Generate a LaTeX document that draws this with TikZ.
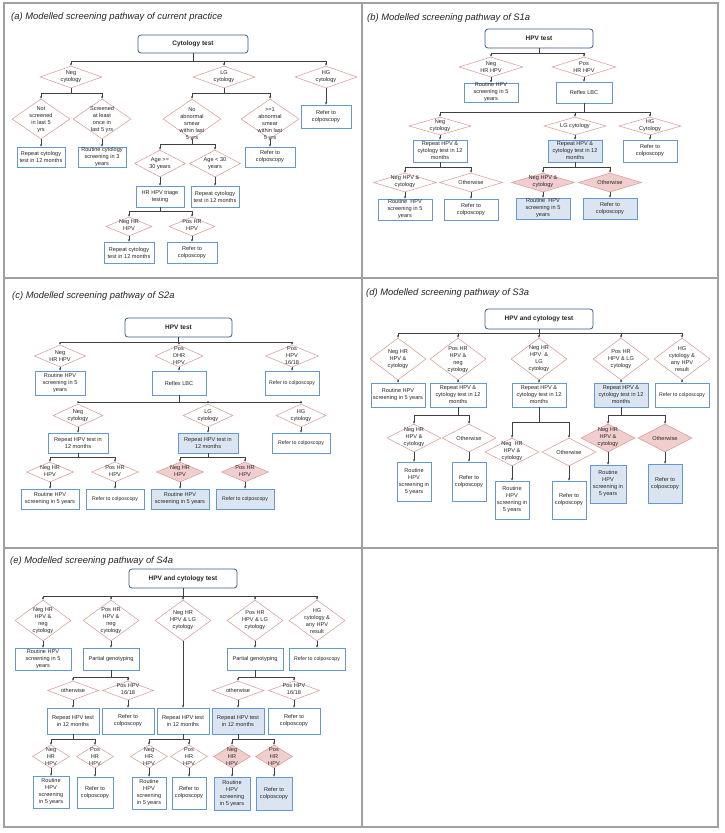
\documentclass[tikz,border=0pt]{standalone}
\usepackage{fontspec}
\setmainfont{Liberation Sans}
\usetikzlibrary{shapes.geometric,arrows.meta}
\definecolor{rootblue}{RGB}{56,93,138}
\definecolor{boxblue}{RGB}{100,152,206}
\definecolor{fillblue}{RGB}{219,229,241}
\definecolor{diapink}{RGB}{217,150,148}
\definecolor{diafill}{RGB}{240,206,205}
\definecolor{framec}{RGB}{160,160,160}
\definecolor{arrc}{RGB}{64,64,64}
\definecolor{txt}{RGB}{38,38,38}
\newcommand\smfont{\fontsize{5.6}{7}\selectfont}
\newcommand\tinyfont{\fontsize{5.2}{6.5}\selectfont}
\newcommand\rootfont{\fontsize{6.5}{8}\selectfont\bfseries}
\newcommand\ttlfont{\fontsize{9.4}{11}\selectfont\itshape}
\newcommand\bx[7][]{\node[boxs,#1,minimum width={(#5-#3)*1pt},minimum height={(#6-#4)*1pt}] (#2) at ({(#3+#5)/2},{(#4+#6)/2}) {#7};}
\newcommand\dm[8][]{\node[dshape,#1,minimum width=#5pt,minimum height=#6pt] (#2) at (#3,#4) {};\node[dtxt] (#2t) at (#3,#7) {#8};}
\newcommand\cn[3]{\draw[arr] (#1.south) -- ++(0,#2) -| (#3.north);}
\newcommand\sd[2]{\draw[arr] (#1.south) -- (#2.north);}
\tikzset{
 boxs/.style={draw=boxblue, line width=0.6pt, fill=white, inner sep=0pt, align=center, font=\smfont, text=txt},
 fb/.style={fill=fillblue},
 sf/.style={font=\tinyfont},
 dshape/.style={diamond, draw=diapink, line width=0.5pt, inner sep=0pt, fill=white},
 fd/.style={fill=diafill},
 dtxt/.style={inner sep=0pt, align=center, font=\smfont, text=txt},
 root/.style={draw=rootblue, line width=0.8pt, rounded corners=3pt, font=\rootfont},
 arr/.style={draw=arrc, line width=0.5pt, -{Stealth[length=2.6pt,width=2.2pt]}},
 ttl/.style={anchor=base west, inner sep=0pt, font=\ttlfont, text=txt},
 frame/.style={draw=framec, line width=1.3pt}
}
\begin{document}
\begin{tikzpicture}[x=1pt,y=-1pt]
\useasboundingbox (0,0) rectangle (724,833);
\fill[white] (0,0) rectangle (724,833);
\draw[frame] (4,3) rectangle (718,827);
\draw[frame] (362,3) -- (362,827);
\draw[frame] (4,278) -- (718,278);
\draw[frame] (4,548) -- (718,548);
% titles
\node[ttl] (ta) at (11,19) {(a) Modelled screening pathway of current practice};
\node[ttl] (tb) at (367,20) {(b) Modelled screening pathway of S1a};
\node[ttl] (tc) at (12,298) {(c) Modelled screening pathway of S2a};
\node[ttl] (td) at (366,295) {(d) Modelled screening pathway of S3a};
\node[ttl] (te) at (10,563) {(e) Modelled screening pathway of S4a};
% ---------------- (a)
\bx[root]{a0}{138}{35}{248}{53}{Cytology test}
\dm{a1}{71}{77}{62}{22}{77}{Neg\\cytology}
\dm{a2}{224}{77}{62}{22}{77}{LG\\cytology}
\dm{a3}{326}{77}{62}{22}{77}{HG\\cytology}
\cn{a0}{8}{a1} \cn{a0}{8}{a2} \cn{a0}{8}{a3}
\dm{a4}{41}{119}{58}{40}{120}{Not\\screened\\in last 5\\yrs}
\dm{a5}{102}{119}{58}{40}{120}{Screened\\at least\\once in\\last 5 yrs}
\cn{a1}{5}{a4} \cn{a1}{5}{a5}
\dm{a6}{192}{119}{58}{40}{124}{No\\abnormal\\smear\\within last\\5 yrs}
\dm{a7}{270}{119}{58}{40}{124}{>=1\\abnormal\\smear\\within last\\5 yrs}
\cn{a2}{5}{a6} \cn{a2}{5}{a7}
\bx{a13}{301}{105}{351}{128}{Refer to\\colposcopy}
\sd{a3}{a13}
\bx{a8}{17}{147}{65}{167}{Repeat cytology\\test in 12 months}
\bx{a9}{78}{147}{126}{167}{Routine cytology\\screening in 3\\years}
\sd{a4}{a8} \sd{a5}{a9}
\dm{a10}{160}{163.5}{51}{27}{163.5}{Age >=\\30 years}
\dm{a11}{215}{163.5}{51}{27}{163.5}{Age < 30\\years}
\cn{a6}{5}{a10} \cn{a6}{5}{a11}
\bx{a12}{245}{147}{295}{167}{Refer to\\colposcopy}
\sd{a7}{a12}
\bx{a14}{136}{186}{184}{207}{HR HPV triage\\testing}
\bx{a15}{191}{186}{239}{207}{Repeat cytology\\test in 12 months}
\sd{a10}{a14} \sd{a11}{a15}
\dm{a16}{129}{226.5}{46}{19}{225.5}{Neg HR\\HPV}
\dm{a17}{192}{226.5}{46}{19}{225.5}{Pos HR\\HPV}
\cn{a14}{4}{a16} \cn{a14}{4}{a17}
\bx{a18}{104}{242}{154}{263}{Repeat cytology\\test in 12 months}
\bx{a19}{167}{242}{217}{263}{Refer to\\colposcopy}
\sd{a16}{a18} \sd{a17}{a19}
% ---------------- (b)
\bx[root]{b0}{485}{29}{593}{48}{HPV test}
\dm{b1}{491}{67}{64}{20}{67}{Neg\\HR HPV}
\dm{b2}{584}{67}{64}{20}{67}{Pos\\HR HPV}
\cn{b0}{5}{b1} \cn{b0}{5}{b2}
\bx{b3}{464}{83}{518}{102}{Routine HPV\\screening in 5\\years}
\bx{b4}{556}{82}{612}{103}{Reflex LBC}
\sd{b1}{b3} \sd{b2}{b4}
\dm{b5}{440}{126}{62}{18}{126}{Neg\\cytology}
\dm{b6}{575}{126}{62}{18}{126}{LG cytology}
\dm{b7}{650}{126}{62}{18}{126}{HG\\Cytology}
\cn{b4}{9}{b5} \cn{b4}{9}{b6} \cn{b4}{9}{b7}
\bx{b8}{413}{140}{467}{162}{Repeat HPV \&\\cytology test in 12\\months}
\bx[fb]{b9}{548}{140}{602}{162}{Repeat HPV \&\\cytology test in 12\\months}
\bx{b10}{623}{140}{677}{162}{Refer to\\colposcopy}
\sd{b5}{b8} \sd{b6}{b9} \sd{b7}{b10}
\dm{b11}{405}{182.5}{63}{19}{181.5}{Neg HPV \&\\cytology}
\dm{b12}{471}{182.5}{63}{19}{182.5}{Otherwise}
\cn{b8}{5}{b11} \cn{b8}{5}{b12}
\bx{b13}{378}{199}{432}{220}{Routine\ \ HPV\\screening in 5\\years}
\bx{b14}{444}{199}{498}{220}{Refer to\\colposcopy}
\sd{b11}{b13} \sd{b12}{b14}
\dm[fd]{b15}{543}{182.5}{63}{19}{181.5}{Neg HPV \&\\cytology}
\dm[fd]{b16}{610}{182.5}{63}{19}{182.5}{Otherwise}
\cn{b9}{5}{b15} \cn{b9}{5}{b16}
\bx[fb]{b17}{516}{198}{570}{219}{Routine\ \ HPV\\screening in 5\\years}
\bx[fb]{b18}{583}{198}{637}{219}{Refer to\\colposcopy}
\sd{b15}{b17} \sd{b16}{b18}
% ---------------- (c)
\bx[root]{c0}{125}{318}{232}{337}{HPV test}
\dm{c1}{60}{356}{51}{22}{356}{Neg\\HR HPV}
\dm{c2}{179}{356}{48}{22}{356}{Pos\\OHR\\HPV}
\dm{c3}{292}{356}{53}{22}{356}{Pos\\HPV\\16/18}
\cn{c0}{5}{c1} \cn{c0}{5}{c2} \cn{c0}{5}{c3}
\bx{c4}{35}{371}{85}{395}{Routine HPV\\screening in 5\\years}
\bx{c5}{152}{371}{206}{395}{Reflex LBC}
\bx[sf]{c6}{265}{371}{319}{395}{Refer to colposcopy}
\sd{c1}{c4} \sd{c2}{c5} \sd{c3}{c6}
\dm{c7}{78}{415.5}{50}{23}{415.5}{Neg\\cytology}
\dm{c8}{208}{415.5}{50}{23}{415.5}{LG\\cytology}
\dm{c9}{301}{415.5}{50}{23}{415.5}{HG\\cytology}
\cn{c5}{7}{c7} \cn{c5}{7}{c8} \cn{c5}{7}{c9}
\bx{c10}{48}{433}{108}{453}{Repeat HPV test in\\12 months}
\bx[fb]{c11}{178}{433}{238}{453}{Repeat HPV test in\\12 months}
\bx[sf]{c12}{272}{433}{330}{453}{Refer to colposcopy}
\sd{c7}{c10} \sd{c8}{c11} \sd{c9}{c12}
\dm{c13}{50}{472}{47}{20}{471}{Neg HR\\HPV}
\dm{c14}{115}{472}{47}{20}{471}{Pos HR\\HPV}
\cn{c10}{4}{c13} \cn{c10}{4}{c14}
\bx{c15}{21}{489}{79}{509}{Routine HPV\\screening in 5 years}
\bx[sf]{c16}{86}{489}{144}{509}{Refer to colposcopy}
\sd{c13}{c15} \sd{c14}{c16}
\dm[fd]{c17}{180}{472}{47}{20}{471}{Neg HR\\HPV}
\dm[fd]{c18}{245}{472}{47}{20}{471}{Pos HR\\HPV}
\cn{c11}{4}{c17} \cn{c11}{4}{c18}
\bx[fb]{c19}{151}{489}{209}{509}{Routine HPV\\screening in 5 years}
\bx[fb,sf]{c20}{216}{489}{274}{509}{Refer to colposcopy}
\sd{c17}{c19} \sd{c18}{c20}
% ---------------- (d)
\bx[root]{d0}{485}{309}{593}{329}{HPV and cytology test}
\dm{d1}{398}{359}{56}{42}{359}{Neg HR\\HPV \&\\cytology}
\dm{d2}{458}{359}{56}{42}{360}{Pos HR\\HPV \&\\neg\\cytology}
\dm{d3}{539}{359}{56}{42}{359}{Neg HR\\HPV\ \ \&\\LG\\cytology}
\dm{d4}{621}{359}{56}{42}{359}{Pos HR\\HPV \& LG\\cytology}
\dm{d5}{682}{359}{56}{42}{359}{HG\\cytology \&\\any HPV\\result}
\cn{d0}{4}{d1} \cn{d0}{4}{d2} \cn{d0}{4}{d3} \cn{d0}{4}{d4} \cn{d0}{4}{d5}
\bx{d6}{371}{383}{425}{407}{Routine HPV\\screening in 5 years}
\bx{d7}{430}{383}{486}{407}{Repeat HPV \&\\cytology test in 12\\months}
\bx{d8}{512}{383}{566}{407}{Repeat HPV \&\\cytology test in 12\\months}
\bx[fb]{d9}{594}{383}{648}{407}{Repeat HPV \&\\cytology test in 12\\months}
\bx[sf]{d10}{655}{383}{709}{407}{Refer to colposcopy}
\sd{d1}{d6} \sd{d2}{d7} \sd{d3}{d8} \sd{d4}{d9} \sd{d5}{d10}
\dm{d11}{414}{438}{54}{28}{437}{Neg HR\\HPV \&\\cytology}
\dm{d12}{469}{438}{54}{28}{438}{Otherwise}
\cn{d7}{8}{d11} \cn{d7}{8}{d12}
\bx{d13}{397}{462}{431}{501}{Routine\\HPV\\screening in\\5 years}
\bx{d14}{452}{462}{486}{501}{Refer to\\colposcopy}
\sd{d11}{d13} \sd{d12}{d14}
\dm{d15}{512}{452}{54}{28}{451}{Neg\ \ HR\\HPV \&\\cytology}
\dm{d16}{569}{452}{54}{28}{452}{Otherwise}
\cn{d8}{15}{d15} \cn{d8}{15}{d16}
\bx{d17}{495}{481}{529}{519}{Routine\\HPV\\screening in\\5 years}
\bx{d18}{552}{481}{586}{519}{Refer to\\colposcopy}
\sd{d15}{d17} \sd{d16}{d18}
\dm[fd]{d19}{608}{438}{54}{28}{437}{Neg HR\\HPV \&\\cytology}
\dm[fd]{d20}{665}{438}{54}{28}{438}{Otherwise}
\cn{d9}{8}{d19} \cn{d9}{8}{d20}
\bx[fb]{d21}{590}{465}{626}{503}{Routine\\HPV\\screening in\\5 years}
\bx[fb]{d22}{648}{464}{682}{503}{Refer to\\colposcopy}
\sd{d19}{d21} \sd{d20}{d22}
% ---------------- (e)
\bx[root]{e0}{129}{569}{237}{588}{HPV and cytology test}
\dm{e1}{43}{620.5}{56}{41}{621}{Neg HR\\HPV \&\\neg\\cytology}
\dm{e2}{111}{620.5}{56}{41}{621}{Pos HR\\HPV \&\\neg\\cytology}
\dm{e3}{183}{620.5}{56}{41}{620.5}{Neg HR\\HPV \& LG\\cytology}
\dm{e4}{255}{620.5}{56}{41}{620.5}{Pos HR\\HPV \& LG\\cytology}
\dm{e5}{317}{620.5}{56}{41}{621}{HG\\cytology \&\\any HPV\\result}
\cn{e0}{8}{e1} \cn{e0}{8}{e2} \cn{e0}{8}{e3} \cn{e0}{8}{e4} \cn{e0}{8}{e5}
\bx{e6}{15}{648}{71}{670}{Routine HPV\\screening in 5\\years}
\bx{e7}{83}{648}{139}{670}{Partial genotyping}
\bx{e8}{227}{648}{283}{670}{Partial genotyping}
\bx[sf]{e9}{289}{648}{345}{670}{Refer to colposcopy}
\sd{e1}{e6} \sd{e2}{e7} \sd{e4}{e8} \sd{e5}{e9}
\dm{e10}{73}{690.5}{51}{19}{690.5}{otherwise}
\dm{e11}{128}{690.5}{51}{19}{689.5}{Pos HPV\\16/18}
\cn{e7}{7}{e10} \cn{e7}{7}{e11}
\dm{e15}{238}{690.5}{52}{19}{690.5}{otherwise}
\dm{e16}{294}{690.5}{51}{19}{689.5}{Pos HPV\\16/18}
\cn{e8}{7}{e15} \cn{e8}{7}{e16}
\bx{e13}{47}{708}{99}{734}{Repeat HPV test\\in 12 months}
\bx{e14}{102}{708}{154}{734}{Refer to\\colposcopy}
\bx{e12}{157}{708}{209}{734}{Repeat HPV test\\in 12 months}
\bx[fb]{e17}{212}{708}{264}{734}{Repeat HPV test\\in 12 months}
\bx{e18}{268}{708}{320}{734}{Refer to\\colposcopy}
\sd{e3}{e12} \sd{e10}{e13} \sd{e11}{e14} \sd{e15}{e17} \sd{e16}{e18}
\dm{e19}{51}{756.5}{37}{23}{756.5}{Neg\\HR\\HPV}
\dm{e20}{95}{756.5}{37}{23}{756.5}{Pos\\HR\\HPV}
\cn{e13}{5}{e19} \cn{e13}{5}{e20}
\bx{e21}{33}{776}{69}{808}{Routine\\HPV\\screening\\in 5 years}
\bx{e22}{77}{777}{113}{808}{Refer to\\colposcopy}
\sd{e19}{e21} \sd{e20}{e22}
\dm{e23}{149}{756.5}{37}{23}{756.5}{Neg\\HR\\HPV}
\dm{e24}{189}{756.5}{37}{23}{756.5}{Pos\\HR\\HPV}
\cn{e12}{5}{e23} \cn{e12}{5}{e24}
\bx{e25}{132}{777}{166}{809}{Routine\\HPV\\screening\\in 5 years}
\bx{e26}{172}{777}{206}{809}{Refer to\\colposcopy}
\sd{e23}{e25} \sd{e24}{e26}
\dm[fd]{e27}{232}{756.5}{37}{23}{756.5}{Neg\\HR\\HPV}
\dm[fd]{e28}{274}{756.5}{37}{23}{756.5}{Pos\\HR\\HPV}
\cn{e17}{5}{e27} \cn{e17}{5}{e28}
\bx[fb]{e29}{214}{777}{250}{810}{Routine\\HPV\\screening\\in 5 years}
\bx[fb]{e30}{256}{777}{292}{810}{Refer to\\colposcopy}
\sd{e27}{e29} \sd{e28}{e30}
\end{tikzpicture}
\end{document}
